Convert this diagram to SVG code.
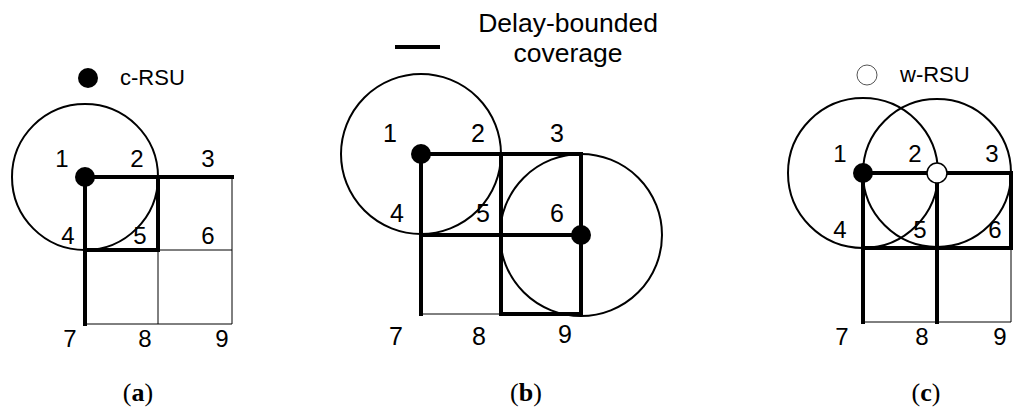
<svg xmlns="http://www.w3.org/2000/svg" width="1024" height="418" viewBox="0 0 1024 418">
<style>
.lbl{font-family:"Liberation Sans",Arial,sans-serif;font-size:24px;fill:#000;text-anchor:middle}
.bot{font-size:25px}
.leg{font-family:"Liberation Sans",Arial,sans-serif;font-size:22px;fill:#000}
.big{font-family:"Liberation Sans",Arial,sans-serif;font-size:26.5px;fill:#000;text-anchor:middle}
.cap{font-family:"Liberation Serif","Times New Roman",serif;font-size:26px;fill:#000;text-anchor:middle}
.thick{stroke:#000;stroke-width:4;fill:none;stroke-linecap:square}
.thin{stroke:#000;stroke-width:1;fill:none}
.cov{stroke:#000;stroke-width:2;fill:none}
.crsu{fill:#000}
.wrsu{fill:#fff;stroke:#000;stroke-width:1.5}
</style>
<rect width="1024" height="418" fill="#fff"/>

<!-- Panel (a) -->
<g id="panel-a">
  <g id="a-legend">
    <circle class="crsu" cx="88" cy="78" r="10"/>
    <text class="leg" x="120" y="85">c-RSU</text>
  </g>
  <g id="a-grid">
    <line class="thin" x1="232" y1="177" x2="232" y2="324"/>
    <line class="thin" x1="158" y1="250" x2="158" y2="324"/>
    <line class="thin" x1="158" y1="250" x2="232" y2="250"/>
    <line class="thin" x1="85" y1="324" x2="232" y2="324"/>
    <line class="thick" x1="85" y1="177" x2="232" y2="177"/>
    <line class="thick" x1="85" y1="177" x2="85" y2="324"/>
    <line class="thick" x1="158" y1="177" x2="158" y2="250"/>
    <line class="thick" x1="85" y1="250" x2="158" y2="250"/>
  </g>
  <circle id="a-coverage" class="cov" cx="85" cy="177" r="73"/>
  <g id="a-node1"><circle class="crsu" cx="85" cy="177" r="10"/></g>
  <g id="a-labels">
    <text class="lbl" x="62" y="167">1</text>
    <text class="lbl" x="137" y="167">2</text>
    <text class="lbl" x="208" y="167">3</text>
    <text class="lbl" x="68" y="244">4</text>
    <text class="lbl" x="140" y="244">5</text>
    <text class="lbl" x="208" y="244">6</text>
    <text class="lbl" x="70" y="347">7</text>
    <text class="lbl" x="145" y="347">8</text>
    <text class="lbl" x="222" y="347">9</text>
  </g>
  <text class="cap" x="138" y="401">(<tspan font-weight="bold">a</tspan>)</text>
</g>

<!-- Panel (b) -->
<g id="panel-b">
  <g id="b-legend">
    <line x1="395" y1="47" x2="440" y2="47" stroke="#000" stroke-width="4"/>
    <text class="big" x="568" y="32">Delay-bounded</text>
    <text class="big" x="568" y="62">coverage</text>
  </g>
  <g id="b-grid">
    <line class="thin" x1="421" y1="314" x2="501" y2="314"/>
    <line class="thick" x1="421" y1="154" x2="581" y2="154"/>
    <line class="thick" x1="421" y1="154" x2="421" y2="314"/>
    <line class="thick" x1="501" y1="154" x2="501" y2="314"/>
    <line class="thick" x1="581" y1="154" x2="581" y2="314"/>
    <line class="thick" x1="421" y1="235" x2="581" y2="235"/>
    <line class="thick" x1="501" y1="314" x2="581" y2="314"/>
  </g>
  <circle id="b-coverage1" class="cov" cx="421" cy="154" r="80"/>
  <circle id="b-coverage6" class="cov" cx="581" cy="235" r="81"/>
  <g id="b-node1"><circle class="crsu" cx="421" cy="154" r="10"/></g>
  <g id="b-node6"><circle class="crsu" cx="581" cy="235" r="10"/></g>
  <g id="b-labels">
    <text class="lbl bot" x="390" y="142">1</text>
    <text class="lbl bot" x="478" y="142">2</text>
    <text class="lbl bot" x="557" y="142">3</text>
    <text class="lbl bot" x="397" y="222">4</text>
    <text class="lbl bot" x="483" y="222">5</text>
    <text class="lbl bot" x="557" y="222">6</text>
    <text class="lbl bot" x="396" y="345">7</text>
    <text class="lbl bot" x="479" y="345">8</text>
    <text class="lbl bot" x="565" y="343">9</text>
  </g>
  <text class="cap" x="526" y="401">(<tspan font-weight="bold">b</tspan>)</text>
</g>

<!-- Panel (c) -->
<g id="panel-c">
  <g id="c-legend">
    <circle cx="867" cy="75" r="10" fill="#fff" stroke="#555" stroke-width="1"/>
    <text class="leg" x="900" y="82">w-RSU</text>
  </g>
  <g id="c-grid">
    <line class="thin" x1="1011" y1="248" x2="1011" y2="322"/>
    <line class="thin" x1="863" y1="322" x2="1011" y2="322"/>
    <line class="thick" x1="863" y1="173" x2="1011" y2="173"/>
    <line class="thick" x1="863" y1="173" x2="863" y2="322"/>
    <line class="thick" x1="937" y1="173" x2="937" y2="322"/>
    <line class="thick" x1="1011" y1="173" x2="1011" y2="248"/>
    <line class="thick" x1="863" y1="248" x2="1011" y2="248"/>
  </g>
  <circle id="c-coverage1" class="cov" cx="863" cy="173" r="75"/>
  <circle id="c-coverage2" class="cov" cx="937" cy="173" r="74"/>
  <g id="c-node1"><circle class="crsu" cx="863" cy="173" r="10"/></g>
  <g id="c-node2"><circle class="wrsu" cx="937" cy="173" r="10"/></g>
  <g id="c-labels">
    <text class="lbl" x="840" y="162">1</text>
    <text class="lbl" x="915" y="162">2</text>
    <text class="lbl" x="992" y="162">3</text>
    <text class="lbl" x="840" y="238">4</text>
    <text class="lbl" x="920" y="238">5</text>
    <text class="lbl" x="995" y="238">6</text>
    <text class="lbl" x="842" y="345">7</text>
    <text class="lbl" x="922" y="345">8</text>
    <text class="lbl" x="1000" y="345">9</text>
  </g>
  <text class="cap" x="926" y="401">(<tspan font-weight="bold">c</tspan>)</text>
</g>
</svg>
